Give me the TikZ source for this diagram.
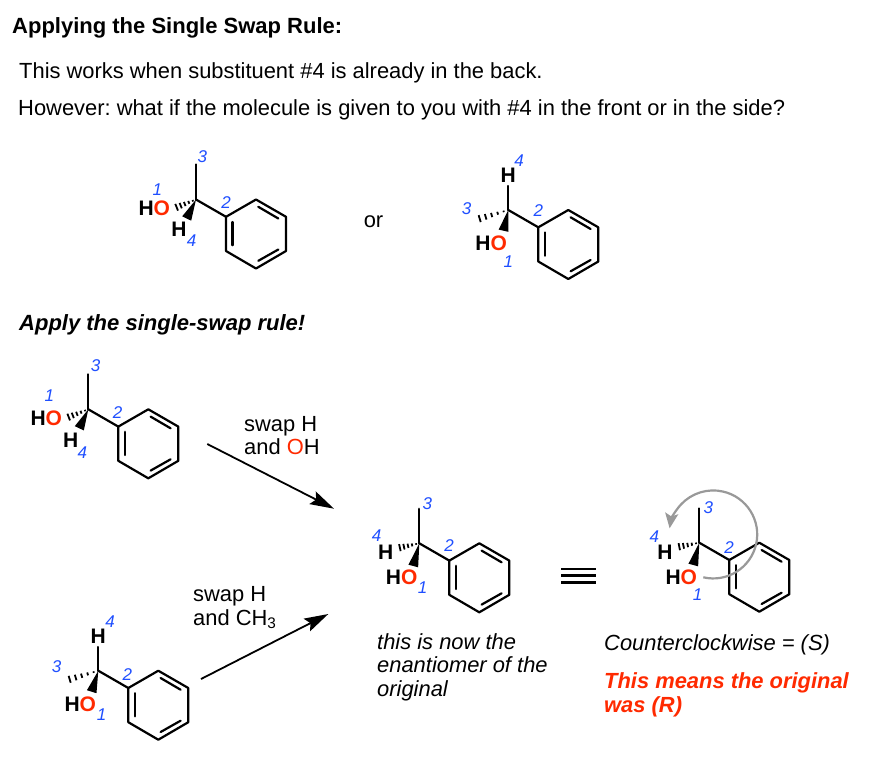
\documentclass[tikz,border=0pt]{standalone}
\usepackage{fontspec}
\setmainfont{Liberation Sans}
\usetikzlibrary{calc,arrows.meta}
\definecolor{chemred}{HTML}{FF2A00}
\definecolor{numblue}{HTML}{1F4FFF}
\definecolor{curvegray}{HTML}{999999}
\frenchspacing
\newcommand{\body}{\fontsize{21.9}{26}\selectfont}
\tikzset{
  bond/.style={line width=2.2pt,line join=round,line cap=round},
  atom/.style={inner sep=0pt,font=\fontsize{21}{21}\selectfont\bfseries},
  num/.style={inner sep=0pt,text=numblue,font=\fontsize{17}{17}\selectfont\itshape},
  txt/.style={inner sep=0pt,anchor=base west,font=\body},
  fat/.style={-{Stealth[length=24pt,width=14pt,inset=4pt]},line width=1.8pt},
}
\newcommand{\benz}[2]{%
  \begin{scope}[shift={(#1,#2)}]
    \draw[bond] (30,17.3)--(60,0)--(90,17.3)--(90,51.5)--(60,69)--(30,51.5)--cycle;
    \draw[bond] (0,0)--(30,17.3);
    \draw[bond] (36.5,22.5)--(36.5,45.7);
    \draw[bond] (62.3,7.3)--(82.3,19);
    \draw[bond] (62.3,61.3)--(82.3,50);
  \end{scope}}
\newcommand{\wedgeb}[2]{\fill (#1) -- ($(#2)!5pt!90:(#1)$) -- ($(#2)!5pt!-90:(#1)$) -- cycle;}
\newcommand{\hashb}[2]{%
  \foreach \t/\w in {0.14/0.8,0.32/1.5,0.5/2.2,0.68/2.9,0.86/3.6,1/4.2}{%
    \coordinate (hp) at ($(#1)!\t!(#2)$);
    \draw[line width=1.8pt] ($(hp)!\w pt!90:(#2)$) -- ($(hp)!\w pt!-90:(#2)$);}}
\newcommand{\hocol}{H\textcolor{chemred}{O}}
\begin{document}
\begin{tikzpicture}[x=1pt,y=-1pt]
\useasboundingbox (0,0) rectangle (874,756);
\fill[white] (0,0) rectangle (874,756);
\node[txt,font=\fontsize{22}{26}\selectfont\bfseries] (title) at (12,33) {Applying the Single Swap Rule:};
\node[txt] (t1) at (19,78) {This works when substituent \#4 is already in the back.};
\node[txt] (t2) at (18,115) {However: what if the molecule is given to you with \#4 in the front or in the side?};
\node[txt,anchor=center] (orword) at (373.5,222) {or};
\node[txt,font=\fontsize{22}{26}\selectfont\bfseries\itshape] (apply) at (19,330) {Apply the single-swap rule!};

% molecule 1
\coordinate (c1) at (196,199.5);
\coordinate (c1m) at (196,164.5);
\benz{196}{199.5}
\draw[bond] (c1)--(c1m);
\coordinate (c1w) at (186.7,218.5); \wedgeb{c1}{c1w}
\coordinate (c1h) at (173.5,208.5); \hashb{c1}{c1h}
\node[atom] (a1ho) at (154.3,208.5) {\hocol};
\node[atom] (a1h) at (179,229.5) {H};
\node[num] (n1a) at (157.3,190) {1};
\node[num] (n1b) at (226,202.3) {2};
\node[num] (n1c) at (202.3,156.7) {3};
\node[num] (n1d) at (191.7,241) {4};

% molecule 2
\coordinate (c2) at (508.3,210);
\benz{508.3}{210}
\node[atom] (a2h) at (508.3,175) {H};
\draw[bond] (c2)--(508.3,186);
\coordinate (c2w) at (503.5,230.7); \wedgeb{c2}{c2w}
\coordinate (c2h) at (475,220); \hashb{c2}{c2h}
\node[atom] (a2ho) at (491.2,243) {\hocol};
\node[num] (n2a) at (508.3,261.7) {1};
\node[num] (n2b) at (538.3,210.7) {2};
\node[num] (n2c) at (466.7,209) {3};
\node[num] (n2d) at (519,160.7) {4};

% molecule 3
\coordinate (c3) at (88.3,409.3);
\coordinate (c3m) at (88.3,374.3);
\benz{88.3}{409.3}
\draw[bond] (c3)--(c3m);
\coordinate (c3w) at (79.3,428.3); \wedgeb{c3}{c3w}
\coordinate (c3h) at (65.5,418.3); \hashb{c3}{c3h}
\node[atom] (a3ho) at (46.3,418.3) {\hocol};
\node[atom] (a3h) at (70.7,440) {H};
\node[num] (n3a) at (49.3,395.7) {1};
\node[num] (n3b) at (117.7,412.7) {2};
\node[num] (n3c) at (95.7,365.7) {3};
\node[num] (n3d) at (82.3,452.7) {4};

% molecule 4
\coordinate (c4) at (98.3,670.7);
\benz{98.3}{670.7}
\node[atom] (a4h) at (98.3,636.7) {H};
\draw[bond] (c4)--(98.3,647);
\coordinate (c4w) at (91.7,691.7); \wedgeb{c4}{c4w}
\coordinate (c4h) at (65,680.7); \hashb{c4}{c4h}
\node[atom] (a4ho) at (80.3,704.3) {\hocol};
\node[num] (n4a) at (101.7,715) {1};
\node[num] (n4b) at (127.3,674.3) {2};
\node[num] (n4c) at (56.7,666.7) {3};
\node[num] (n4d) at (110,622) {4};

% molecule 5
\coordinate (c5) at (419.3,543.3);
\coordinate (c5m) at (419.3,508.8);
\benz{419.3}{543.3}
\draw[bond] (c5)--(c5m);
\coordinate (c5w) at (413.3,566); \wedgeb{c5}{c5w}
\coordinate (c5h) at (396.7,548.3); \hashb{c5}{c5h}
\node[atom] (a5ho) at (401.7,577.7) {\hocol};
\node[atom] (a5h) at (385.7,552.7) {H};
\node[num] (n5a) at (422.7,587.7) {1};
\node[num] (n5b) at (449,546) {2};
\node[num] (n5c) at (427.3,504) {3};
\node[num] (n5d) at (376.7,536) {4};

% molecule 6
\coordinate (c6) at (699.3,542.7);
\coordinate (c6m) at (699.3,508.5);
\benz{699.3}{542.7}
\draw[bond] (c6)--(c6m);
\coordinate (c6w) at (693.3,565); \wedgeb{c6}{c6w}
\coordinate (c6h) at (676,547.3); \hashb{c6}{c6h}
\node[atom] (a6ho) at (681.3,577.7) {\hocol};
\node[atom] (a6h) at (665,552.7) {H};
\node[num] (n6a) at (697.7,595) {1};
\node[num] (n6b) at (729,547.3) {2};
\node[num] (n6c) at (708.3,507.7) {3};
\node[num] (n6d) at (654.3,536.7) {4};
\coordinate (arcstart) at (703.3,577.3);
\draw[curvegray,line width=2.2pt,-{Stealth[length=15pt,width=13pt,inset=3pt]}]
  (arcstart) arc[start angle=103,end angle=-172,radius=44];

% reaction arrows
\coordinate (ar1a) at (207.3,444); \coordinate (ar1b) at (334,508.7);
\coordinate (ar2a) at (201,679); \coordinate (ar2b) at (328.3,614);
\draw[fat] (ar1a)--(ar1b);
\draw[fat] (ar2a)--(ar2b);
\node[txt] (s1a) at (244,431) {swap H};
\node[txt] (s1b) at (244,454) {and \textcolor{chemred}{O}H};
\node[txt] (s2a) at (193,601) {swap H};
\node[txt] (s2b) at (193,625) {and CH\textsubscript{3}};

% equivalence bars
\coordinate (eqa) at (561,568.7); \coordinate (eqb) at (596,568.7);
\coordinate (eqc) at (561,575.3); \coordinate (eqd) at (596,575.3);
\coordinate (eqe) at (561,582.3); \coordinate (eqf) at (596,582.3);
\draw[line width=2.4pt] (eqa)--(eqb) (eqc)--(eqd) (eqe)--(eqf);

\node[txt,font=\body\itshape] (e1) at (377,649) {this is now the};
\node[txt,font=\body\itshape] (e2) at (377,672) {enantiomer of the};
\node[txt,font=\body\itshape] (e3) at (377,696) {original};
\node[txt,font=\body\itshape] (r1) at (604,650) {Counterclockwise = (S)};
\node[txt,font=\body\bfseries\itshape,text=chemred] (r2) at (604,688.5) {This means the original};
\node[txt,font=\body\bfseries\itshape,text=chemred] (r3) at (604,712.5) {was (R)};
\end{tikzpicture}
\end{document}
